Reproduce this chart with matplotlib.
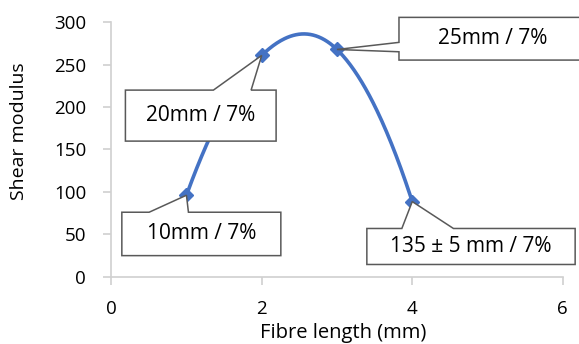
import numpy as np
import matplotlib.pyplot as plt
from matplotlib.patches import Polygon
from matplotlib.transforms import IdentityTransform

# data
fibre_length = [1, 2, 3, 4]
shear_modulus = [96, 261, 268, 88.5]
labels = ["10mm / 7%", "20mm / 7%", "25mm / 7%", "135 ± 5 mm / 7%"]

# callout boxes: offsets in pixels from the point (left, top, right, bottom), y down
# plus which edge the pointer leaves from and where along it
boxes = [
    ((-64.6, 17.0, 94.4, 60.4), "top", (-37.3, 2.0)),
    ((-136.3, 34.7, 14.4, 85.7), "top", (-48.3, -10.6)),
    ((62.0, -32.1, 248.7, 10.6), "left", (-7.1, 2.3)),
    ((-45.4, 26.9, 162.9, 62.9), "top", (-10.4, 41.2)),
]

plt.rcParams['font.family'] = ['Open Sans', 'DejaVu Sans']


def smooth(x, y, n=80):
    # catmull-rom through the points, ends extrapolated with a parabola
    P = np.column_stack([np.asarray(x, float), np.asarray(y, float)])
    first = P[2] - 3 * P[1] + 3 * P[0]
    last = P[-3] - 3 * P[-2] + 3 * P[-1]
    Q = np.vstack([first, P, last])
    s = np.linspace(0, 1, n)[:, None]
    h00 = 2 * s**3 - 3 * s**2 + 1
    h10 = s**3 - 2 * s**2 + s
    h01 = -2 * s**3 + 3 * s**2
    h11 = s**3 - s**2
    out = []
    for i in range(1, len(Q) - 2):
        m1 = (Q[i + 1] - Q[i - 1]) / 2
        m2 = (Q[i + 2] - Q[i]) / 2
        out.append(h00 * Q[i] + h10 * m1 + h01 * Q[i + 1] + h11 * m2)
    seg = np.vstack(out)
    return seg[:, 0], seg[:, 1]


fig = plt.figure(figsize=(5.79, 3.44), dpi=100)
ax = fig.add_axes([0.192, 0.196, 0.780, 0.739])

sx, sy = smooth(fibre_length, shear_modulus)
ax.plot(sx, sy, color="#4472C4", lw=2.6, zorder=3, solid_capstyle="round")
ax.plot(fibre_length, shear_modulus, "D", color="#4472C4", ms=7, zorder=4)

ax.set_xlim(0, 6)
ax.set_ylim(0, 300)
ax.set_xticks([0, 2, 4, 6])
ax.set_yticks(np.arange(0, 301, 50))
for s in ["top", "right"]:
    ax.spines[s].set_visible(False)
for s in ["left", "bottom"]:
    ax.spines[s].set_color("#d0d0d0")
    ax.spines[s].set_linewidth(1.2)
ax.tick_params(colors="#d0d0d0", labelcolor="black", labelsize=13.5,
               length=5.5, width=1.2)
ax.tick_params(axis="y", pad=12.5)
ax.tick_params(axis="x", pad=11.5)

fig.text(0.033, 0.618, "Shear modulus", rotation=90, ha="center",
         va="center", fontsize=14)
fig.text(0.593, 0.018, "Fibre length (mm)", ha="center", va="baseline",
         fontsize=14.5)

# callouts
fig.canvas.draw()
for (xv, yv, text, (box, edge, (w1, w2))) in zip(fibre_length, shear_modulus,
                                                   labels, boxes):
    X, Y = ax.transData.transform((xv, yv))
    L, T, R, B = box
    if edge == "top":
        verts = [(L, T), (w1, T), (0, 0), (w2, T), (R, T), (R, B), (L, B)]
    else:
        verts = [(L, T), (R, T), (R, B), (L, B), (L, w2), (0, 0), (L, w1)]
    verts = [(X + dx, Y - dy) for dx, dy in verts]
    poly = Polygon(verts, closed=True, facecolor="white", edgecolor="#595959",
                   lw=1.1, transform=IdentityTransform(), clip_on=False,
                   zorder=5)
    fig.patches.append(poly)
    fig.text(X + (L + R) / 2, Y - (T + B) / 2, text, ha="center", va="center",
             fontsize=15, transform=IdentityTransform(), zorder=6)

fig.savefig("out.png", dpi=100)
